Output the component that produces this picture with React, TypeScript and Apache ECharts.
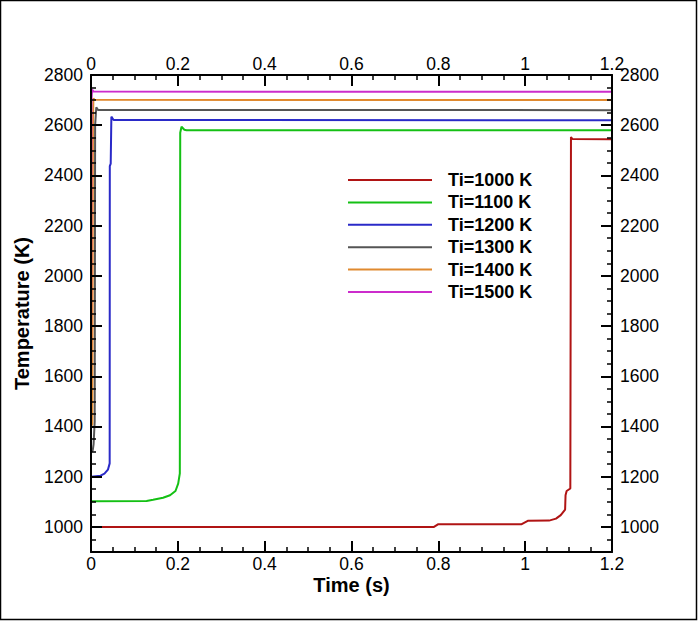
import React, { useEffect, useRef } from "react";
import * as echarts from "echarts";

const FONT = "'Liberation Sans', Arial, Helvetica, sans-serif";

const seriesNames = ["Ti=1000 K", "Ti=1100 K", "Ti=1200 K", "Ti=1300 K", "Ti=1400 K", "Ti=1500 K"];
const seriesColors = ["#b01414", "#14c014", "#2a2ac8", "#555555", "#e08a30", "#cc2ccc"];

const ti1000: [number, number][] = [
  [0, 1000], [0.79, 1000], [0.8, 1011], [0.992, 1011], [1.006, 1024], [1.055, 1025],
  [1.071, 1033], [1.082, 1047], [1.092, 1069], [1.093, 1126], [1.0955, 1143],
  [1.104, 1153], [1.1055, 2553], [1.109, 2545], [1.2, 2544],
];
const ti1100: [number, number][] = [
  [0, 1102], [0.128, 1103], [0.143, 1108], [0.166, 1116], [0.182, 1126],
  [0.1946, 1143], [0.2008, 1172], [0.2046, 1213], [0.2055, 2570], [0.2085, 2594],
  [0.215, 2582], [0.22, 2580], [1.2, 2580],
];
const ti1200: [number, number][] = [
  [0, 1200], [0.022, 1204], [0.031, 1212], [0.039, 1228], [0.043, 1253],
  [0.0433, 2437], [0.0454, 2447], [0.0469, 2634], [0.052, 2621], [1.2, 2620],
];
const ti1300: [number, number][] = [
  [0, 1300], [0.004, 1305], [0.006, 1330], [0.0085, 1420], [0.0095, 2600],
  [0.0122, 2671], [0.016, 2661], [1.2, 2660],
];
const ti1400: [number, number][] = [
  [0, 1400], [0.003, 1410], [0.0045, 2600], [0.0055, 2707], [0.008, 2701], [1.2, 2700],
];
const ti1500: [number, number][] = [
  [0, 1500], [0.001, 2700], [0.0025, 2742], [0.006, 2734], [1.2, 2733],
];
const seriesData = [ti1000, ti1100, ti1200, ti1300, ti1400, ti1500];

const xMin = 0;
const xMax = 1.2;
const xStep = 0.2;
const yMin = 900;
const yMax = 2800;
const yMajorTicks = [1000, 1200, 1400, 1600, 1800, 2000, 2200, 2400, 2600, 2800];
const yMinorTicks = [950, 1050, 1100, 1150, 1250, 1300, 1350, 1450, 1500, 1550, 1650, 1700, 1750,
  1850, 1900, 1950, 2050, 2100, 2150, 2250, 2300, 2350, 2450, 2500, 2550, 2650, 2700, 2750];

export default function App() {
  const ref = useRef<HTMLDivElement>(null);
  useEffect(() => {
    if (!ref.current) return;
    const chart = echarts.init(ref.current, undefined, { renderer: "svg" });
    const labelStyle = { color: "#000", fontSize: 17.5, fontFamily: FONT };
    const lineStyle = { color: "#000", width: 2 };
    const fmt = (v: number) => String(Math.round(v * 1000) / 1000);
    const xAxisBase = (pos: "bottom" | "top", withName: boolean) => ({
      type: "value",
      position: pos,
      min: xMin,
      max: xMax,
      interval: xStep,
      z: 5,
      name: withName ? "Time (s)" : "",
      nameLocation: "middle",
      nameGap: 23,
      nameMoveOverlap: false,
      nameTextStyle: { color: "#000", fontSize: 20, fontWeight: "bold", fontFamily: FONT },
      axisLine: { show: true, onZero: false, lineStyle },
      axisTick: { show: true, inside: true, length: 11, lineStyle },
      minorTick: { show: true, splitNumber: 4, length: 5, lineStyle: { color: "#000", width: 1.5 } },
      splitLine: { show: false },
      minorSplitLine: { show: false },
      axisLabel: { ...labelStyle, margin: 2, lineHeight: 19, formatter: fmt },
    });
    const yMajor = (pos: "left" | "right", withName: boolean) => ({
      type: "value",
      position: pos,
      min: yMin,
      max: yMax,
      z: 5,
      name: withName ? "Temperature (K)" : "",
      nameLocation: "middle",
      nameGap: 59,
      nameMoveOverlap: false,
      nameTextStyle: { color: "#000", fontSize: 20, fontWeight: "bold", fontFamily: FONT },
      axisLine: { show: true, onZero: false, lineStyle },
      axisTick: { show: true, inside: true, length: 11, lineStyle, customValues: yMajorTicks },
      splitLine: { show: false },
      axisLabel: { ...labelStyle, margin: 8, customValues: yMajorTicks, formatter: fmt },
    });
    const yMinor = (pos: "left" | "right") => ({
      type: "value",
      position: pos,
      min: yMin,
      max: yMax,
      z: 5,
      axisLine: { show: false, onZero: false },
      axisTick: { show: true, inside: true, length: 5, lineStyle: { color: "#000", width: 1.5 }, customValues: yMinorTicks },
      splitLine: { show: false },
      axisLabel: { show: false },
    });

    chart.setOption({
      animation: false,
      backgroundColor: "#fff",
      grid: { left: 91, right: 86, top: 75, bottom: 69, containLabel: false, outerBoundsMode: "none" },
      xAxis: [xAxisBase("bottom", true), xAxisBase("top", false)],
      yAxis: [yMajor("left", true), yMajor("right", false), yMinor("left"), yMinor("right")],
      legend: {
        orient: "vertical",
        left: 347,
        top: 171,
        padding: 0,
        itemWidth: 84,
        itemHeight: 14,
        itemGap: 4.4,
        itemStyle: { opacity: 0 },
        data: seriesNames,
        textStyle: {
          color: "#000", fontSize: 18, fontWeight: "bold", fontFamily: FONT,
          padding: [0, 0, 0, 11],
        },
      },
      graphic: [
        {
          type: "rect",
          shape: { x: 0.5, y: 0.5, width: 696, height: 619 },
          style: { fill: "none", stroke: "#000", lineWidth: 1.5 },
          silent: true,
          z: 10,
        },
      ],
      series: seriesNames.map((name, i) => ({
        name,
        type: "line",
        xAxisIndex: 0,
        yAxisIndex: 0,
        data: seriesData[i],
        symbol: "none",
        showSymbol: false,
        z: 2,
        lineStyle: { color: seriesColors[i], width: 2 },
        itemStyle: { color: seriesColors[i] },
      })),
    });
    return () => chart.dispose();
  }, []);
  return (
    <div
      ref={ref}
      style={{ position: "absolute", left: 0, top: 0, width: 698, height: 621, background: "#fff" }}
    />
  );
}
